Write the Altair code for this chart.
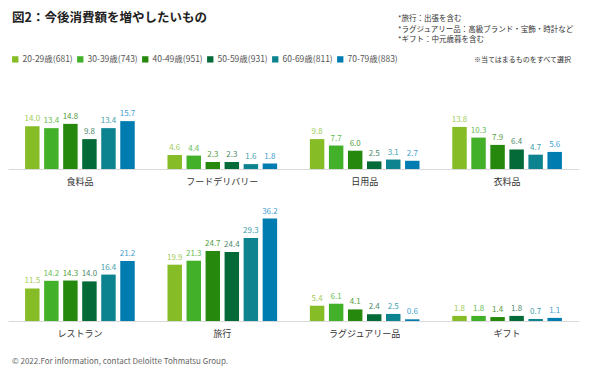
import altair as alt
import pandas as pd

ages = ["20-29歳(681)", "30-39歳(743)", "40-49歳(951)", "50-59歳(931)", "60-69歳(811)", "70-79歳(883)"]
bar_colors = ["#86BC25", "#43B02A", "#26890D", "#046A38", "#0D8390", "#007CB0"]
label_colors = ["#A3CD58", "#66BE55", "#55A040", "#4E8A6C", "#44A0AA", "#45A0D2"]

cats_top = ["食料品", "フードデリバリー", "日用品", "衣料品"]
cats_bottom = ["レストラン", "旅行", "ラグジュアリー品", "ギフト"]

v_food = [14.0, 13.4, 14.8, 9.8, 13.4, 15.7]
v_delivery = [4.6, 4.4, 2.3, 2.3, 1.6, 1.8]
v_daily = [9.8, 7.7, 6.0, 2.5, 3.1, 2.7]
v_clothes = [13.8, 10.3, 7.9, 6.4, 4.7, 5.6]
v_restaurant = [11.5, 14.2, 14.3, 14.0, 16.4, 21.2]
v_travel = [19.9, 21.3, 24.7, 24.4, 29.3, 36.2]
v_luxury = [5.4, 6.1, 4.1, 2.4, 2.5, 0.6]
v_gift = [1.8, 1.8, 1.4, 1.8, 0.7, 1.1]

title_text = "図2：今後消費額を増やしたいもの"
notes_text = "*旅行：出張を含む\n*ラグジュアリー品：高級ブランド・宝飾・時計など\n*ギフト：中元歳暮を含む"
select_note = "※当てはまるものをすべて選択"
footer_text = "© 2022.For information, contact Deloitte Tohmatsu Group."

FONT = "Noto Sans CJK JP"


def make_df(cats, series):
    rows = []
    for c, vals in zip(cats, series):
        for a, v in zip(ages, vals):
            rows.append({"cat": c, "age": a, "value": v})
    return pd.DataFrame(rows)


df_top = make_df(cats_top, [v_food, v_delivery, v_daily, v_clothes])
df_bottom = make_df(cats_bottom, [v_restaurant, v_travel, v_luxury, v_gift])

W = 571


def panel(df, cats, height, ymax, show_legend):
    base = alt.Chart(df).encode(
        x=alt.X("cat:N", sort=cats, title=None,
                scale=alt.Scale(paddingInner=0.23, paddingOuter=0.12),
                axis=alt.Axis(ticks=False, labelAngle=0, labelPadding=8, labelFontSize=9,
                              labelColor="#333333", labelFont=FONT, domainColor="#D9D9D9",
                              domainWidth=1.2, grid=False)),
        xOffset=alt.XOffset("age:N", sort=ages, scale=alt.Scale(paddingInner=0.24, paddingOuter=0)),
        y=alt.Y("value:Q", scale=alt.Scale(domain=[0, ymax]), axis=None),
    )
    if show_legend:
        leg = alt.Legend(title=None, orient="none", legendX=3, legendY=47, direction="horizontal",
                         columns=6, symbolType="square", symbolSize=40, symbolStrokeWidth=0,
                         labelFont=FONT, labelFontSize=8.5, labelColor="#555555",
                         columnPadding=3, labelOffset=3)
    else:
        leg = None
    bars = base.mark_bar().encode(
        color=alt.Color("age:N", sort=ages, scale=alt.Scale(domain=ages, range=bar_colors), legend=leg)
    )
    labels = base.mark_text(baseline="bottom", dy=-3, fontSize=8, font=FONT, fontWeight="normal").encode(
        text=alt.Text("value:Q", format=".1f"),
        fill=alt.Fill("age:N", sort=ages, scale=alt.Scale(domain=ages, range=label_colors), legend=None),
    )
    return alt.layer(bars, labels).resolve_scale(color="independent", fill="independent").properties(
        width=W, height=height)


one = pd.DataFrame({"t": [0]})

top_h = 161
top = panel(df_top, cats_top, top_h, top_h / 3.05, True)
title_m = alt.Chart(one).mark_text(align="left", baseline="middle", fontSize=12.5, fontWeight="bold",
                                   font=FONT, color="#222222").encode(
    x=alt.value(4), y=alt.value(10), text=alt.value(title_text))
notes_m = alt.Chart(one).mark_text(align="left", baseline="top", fontSize=7.5, font=FONT,
                                   color="#333333", lineBreak="\n", lineHeight=10.5).encode(
    x=alt.value(390), y=alt.value(7), text=alt.value(notes_text))
select_m = alt.Chart(one).mark_text(align="right", baseline="middle", fontSize=7, font=FONT,
                                    color="#333333").encode(
    x=alt.value(563), y=alt.value(52), text=alt.value(select_note))
top_all = alt.layer(top, title_m, notes_m, select_m)

bot_h = 123
bottom = panel(df_bottom, cats_bottom, bot_h, bot_h / 2.83, False)
footer_m = alt.Chart(one).mark_text(align="left", baseline="middle", fontSize=8, font=FONT,
                                    color="#666666").encode(
    x=alt.value(4), y=alt.value(bot_h + 41), text=alt.value(footer_text))
bottom_all = alt.layer(bottom, footer_m)

chart = alt.vconcat(top_all, bottom_all, spacing=12).properties(
    padding={"left": 0, "top": 0, "right": 0, "bottom": 0},
    background="white",
).configure_view(stroke=None, strokeWidth=0)

chart.save("out.html", embed_options={"renderer": "svg", "actions": False})
